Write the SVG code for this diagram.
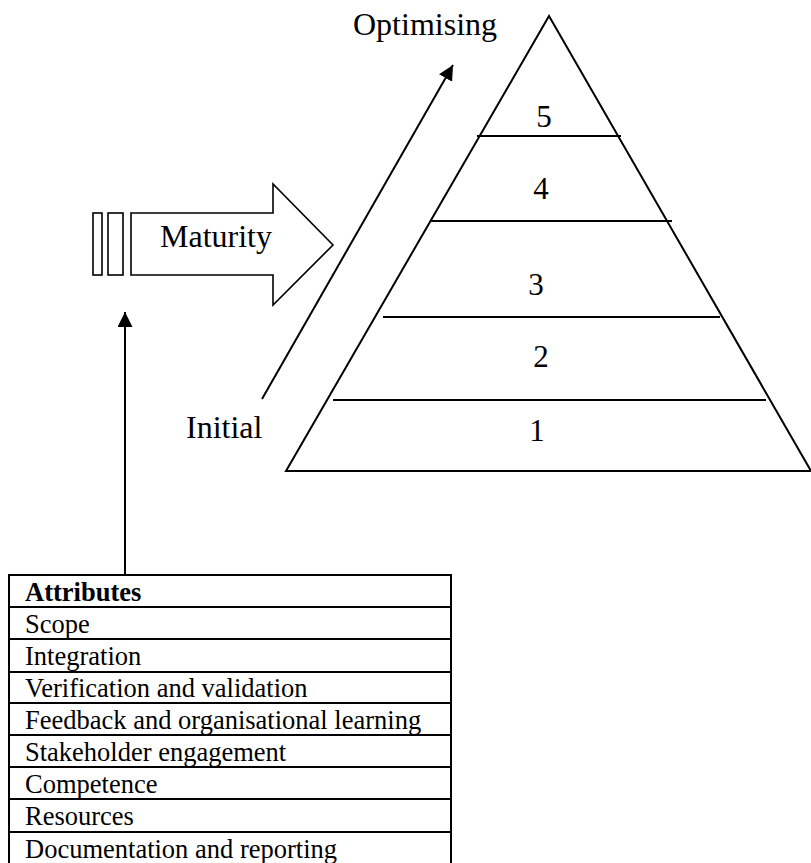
<svg xmlns="http://www.w3.org/2000/svg" width="811" height="863" viewBox="0 0 811 863">
<style>
text{font-family:"Liberation Serif","Times New Roman",serif;fill:#000}
.big{font-size:32px}
.num{font-size:31px;text-anchor:middle}
.cell{font-size:26.5px}
.ln{stroke:#000;stroke-width:2;fill:none}
.sh{stroke:#000;stroke-width:1.6;fill:#fff}
</style>
<defs>
<marker id="ah" markerUnits="userSpaceOnUse" markerWidth="16" markerHeight="16" refX="15" refY="7.5" orient="auto">
<path d="M0,0 L15,7.5 L0,15 Z" fill="#000"/>
</marker>
</defs>
<rect width="811" height="863" fill="#fff"/>
<g id="pyramid">
<polygon class="ln" points="549,16 286,471 811,471"/>
<line class="ln" x1="477" y1="136" x2="621" y2="136"/>
<line class="ln" x1="431" y1="221" x2="672" y2="221"/>
<line class="ln" x1="383" y1="317" x2="720" y2="317"/>
<line class="ln" x1="333" y1="400" x2="766" y2="400"/>
<text class="num" x="544" y="127">5</text>
<text class="num" x="541" y="199">4</text>
<text class="num" x="536" y="295">3</text>
<text class="num" x="541" y="367">2</text>
<text class="num" x="537" y="441">1</text>
</g>
<g id="maturity">
<rect class="sh" x="93" y="213" width="9" height="62"/>
<rect class="sh" x="108" y="213" width="15" height="62"/>
<path class="sh" d="M131,213 H273 V184 L333,245 L273,305 V275 H131 Z"/>
<text class="big" x="160" y="247">Maturity</text>
</g>
<g id="labels">
<text class="big" x="353" y="35">Optimising</text>
<text class="big" x="186" y="438">Initial</text>
</g>
<g id="connectors">
<line class="ln" x1="262" y1="399" x2="453" y2="65" marker-end="url(#ah)"/>
<line class="ln" x1="125" y1="575" x2="125" y2="312" marker-end="url(#ah)"/>
</g>
<g id="attributes">
<rect x="9" y="575" width="442" height="291" fill="#fff" stroke="#000" stroke-width="2"/>
<g class="ln">
<line x1="9" y1="607" x2="451" y2="607"/>
<line x1="9" y1="639" x2="451" y2="639"/>
<line x1="9" y1="672" x2="451" y2="672"/>
<line x1="9" y1="703" x2="451" y2="703"/>
<line x1="9" y1="735" x2="451" y2="735"/>
<line x1="9" y1="767" x2="451" y2="767"/>
<line x1="9" y1="799" x2="451" y2="799"/>
<line x1="9" y1="832" x2="451" y2="832"/>
</g>
<text class="cell" x="25" y="601" font-weight="bold">Attributes</text>
<text class="cell" x="25" y="633">Scope</text>
<text class="cell" x="25" y="665">Integration</text>
<text class="cell" x="25" y="697">Verification and validation</text>
<text class="cell" x="25" y="729">Feedback and organisational learning</text>
<text class="cell" x="25" y="761">Stakeholder engagement</text>
<text class="cell" x="25" y="793">Competence</text>
<text class="cell" x="25" y="825">Resources</text>
<text class="cell" x="25" y="858">Documentation and reporting</text>
</g>
</svg>
